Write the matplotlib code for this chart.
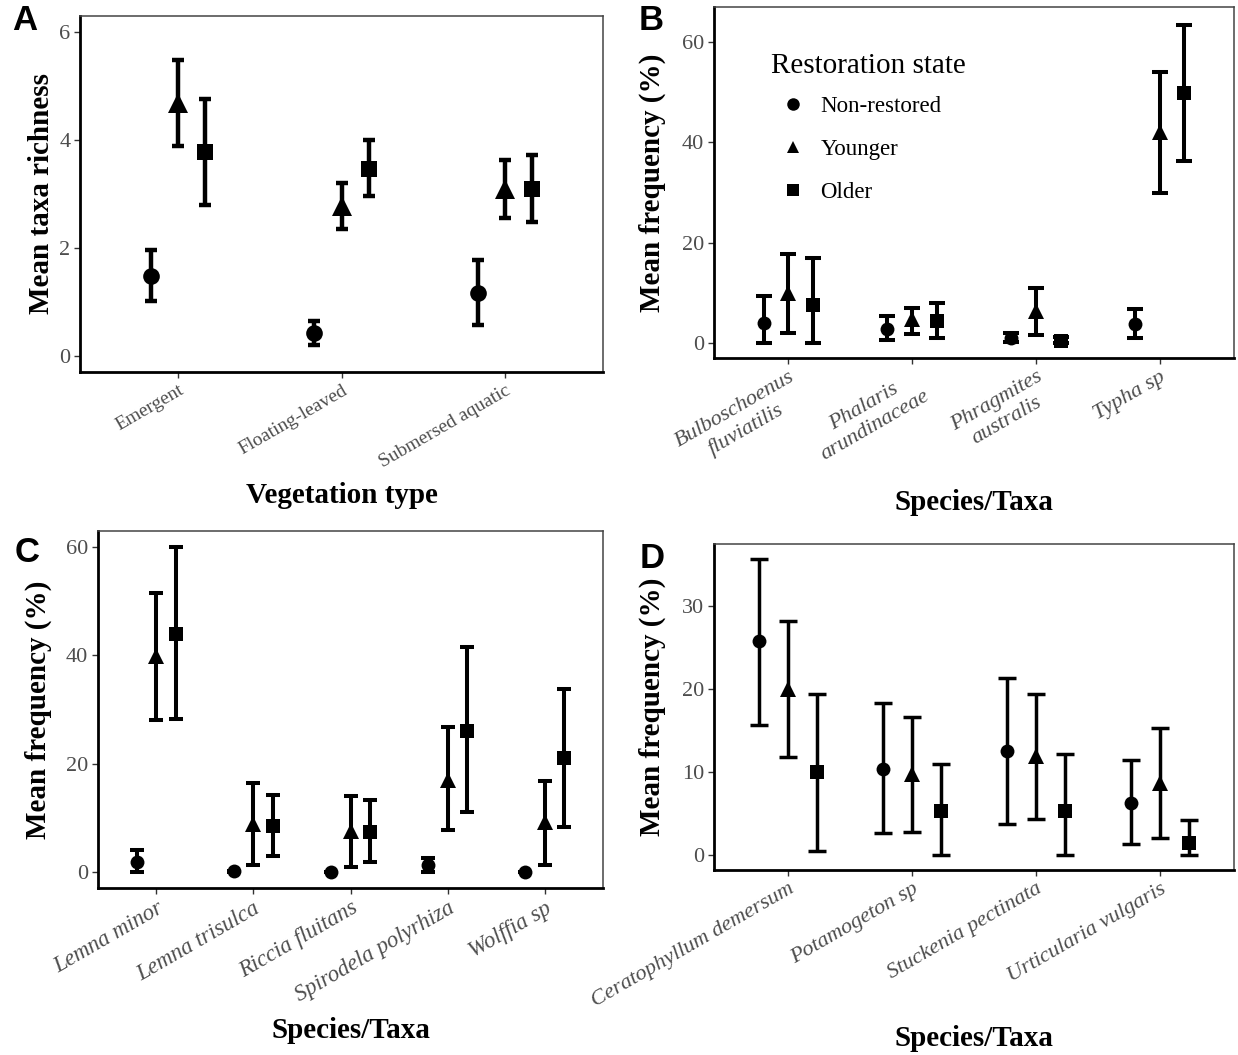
import numpy as np
import matplotlib
matplotlib.use("Agg")
import matplotlib.pyplot as plt
from matplotlib.lines import Line2D

plt.rcParams['font.family'] = ['Liberation Serif', 'DejaVu Serif']

states = ["Non-restored", "Younger", "Older"]
markers = ["o", "^", "s"]

# A - taxa richness by vegetation type
vegetation = ["Emergent", "Floating-leaved", "Submersed aquatic"]
rich_mean = [[1.48, 0.42, 1.17], [4.68, 2.78, 3.09], [3.77, 3.47, 3.09]]
rich_lo = [[1.02, 0.20, 0.58], [3.89, 2.35, 2.55], [2.80, 2.96, 2.48]]
rich_hi = [[1.96, 0.65, 1.78], [5.48, 3.21, 3.63], [4.76, 4.00, 3.72]]

# B - emergent species
emergent = ["Bulboschoenus\nfluviatilis", "Phalaris\narundinaceae", "Phragmites\naustralis", "Typha sp"]
emer_mean = [[4.0, 2.7, 1.0, 3.7], [10.0, 4.7, 6.3, 42.0], [7.5, 4.3, 0.3, 49.9]]
emer_lo = [[0.0, 0.5, 0.2, 0.9], [2.0, 1.8, 1.5, 29.9], [0.0, 0.9, 0.0, 36.3]]
emer_hi = [[9.3, 5.3, 1.9, 6.7], [17.8, 6.9, 11.0, 54.0], [17.0, 7.9, 1.1, 63.5]]

# C - floating-leaved species
floating = ["Lemna minor", "Lemna trisulca", "Riccia fluitans", "Spirodela polyrhiza", "Wolffia sp"]
float_mean = [[1.8, 0.1, 0.0, 1.2, 0.0], [39.8, 8.9, 7.5, 17.0, 9.2], [43.9, 8.5, 7.3, 26.1, 21.0]]
float_lo = [[0.0, 0.0, 0.0, 0.0, 0.0], [28.1, 1.25, 0.9, 7.8, 1.25], [28.3, 2.9, 1.8, 11.1, 8.3]]
float_hi = [[4.0, 0.2, 0.0, 2.6, 0.0], [51.5, 16.4, 14.1, 26.8, 16.7], [60.0, 14.2, 13.3, 41.5, 33.8]]

# D - submersed species
submersed = ["Ceratophyllum demersum", "Potamogeton sp", "Stuckenia pectinata", "Urticularia vulgaris"]
sub_mean = [[25.7, 10.4, 12.5, 6.3], [20.0, 9.7, 11.9, 8.7], [10.0, 5.3, 5.3, 1.45]]
sub_lo = [[15.6, 2.7, 3.8, 1.3], [11.8, 2.8, 4.4, 2.1], [0.5, 0.0, 0.0, 0.0]]
sub_hi = [[35.6, 18.3, 21.3, 11.5], [28.2, 16.6, 19.4, 15.3], [19.4, 10.9, 12.2, 4.2]]


def draw_panel(ax, cats, means, lows, highs, dodge, msizes, lw, cap, ylim, yticks, italic, xfs):
    x = np.arange(1, len(cats) + 1)
    for i in range(3):
        m = np.array(means[i])
        lo = np.array(lows[i])
        hi = np.array(highs[i])
        xi = x + (i - 1) * dodge
        ax.errorbar(xi, m, yerr=[m - lo, hi - m], fmt='none', ecolor='black',
                    elinewidth=lw, capsize=cap, capthick=lw, zorder=2)
        ax.plot(xi, m, linestyle='none', marker=markers[i], ms=msizes[i],
                color='black', mew=0, zorder=3)
    ax.set_xlim(0.4, len(cats) + 0.6)
    ax.set_ylim(*ylim)
    ax.set_yticks(yticks)
    ax.set_xticks(x)
    ax.set_xticklabels(cats, rotation=30, ha='right', rotation_mode='anchor',
                       style='italic' if italic else 'normal', fontsize=xfs,
                       color='#4d4d4d', multialignment='center', linespacing=1.2)
    ax.tick_params(axis='y', labelsize=16, labelcolor='#4d4d4d')
    ax.tick_params(length=4, width=1, color='#333333', pad=3)
    for s in ['left', 'bottom']:
        ax.spines[s].set_linewidth(2)
        ax.spines[s].set_color('black')
    for s in ['top', 'right']:
        ax.spines[s].set_linewidth(1.1)
        ax.spines[s].set_color('#444444')


fig = plt.figure(figsize=(12.38, 10.55), dpi=100)
W, H = 1238.0, 1055.0


def add_ax(l, t, r, b):
    return fig.add_axes([l / W, 1 - b / H, (r - l) / W, (b - t) / H])


axa = add_ax(80, 16, 603, 372)
axb = add_ax(714, 7, 1234, 358)
axc = add_ax(98, 531, 603, 888)
axd = add_ax(714, 544, 1234, 870)

draw_panel(axa, vegetation, rich_mean, rich_lo, rich_hi, 1 / 6, [12, 14, 12], 3.2, 4.5,
           (-0.3, 6.3), [0, 2, 4, 6], False, 14)
draw_panel(axb, emergent, emer_mean, emer_lo, emer_hi, 0.2, [10, 12, 9.5], 2.9, 6,
           (-3.0, 67.0), [0, 20, 40, 60], True, 16)
draw_panel(axc, floating, float_mean, float_lo, float_hi, 0.2, [10, 12, 9.5], 2.9, 5,
           (-3.0, 63.0), [0, 20, 40, 60], True, 16.5)
draw_panel(axd, submersed, sub_mean, sub_lo, sub_hi, 0.233, [10, 12, 9.5], 2.5, 6.5,
           (-1.78, 37.4), [0, 10, 20, 30], True, 16)

lab = dict(fontsize=21, fontweight='bold')
axa.set_ylabel("Mean taxa richness", **lab)
axa.set_xlabel("Vegetation type", **lab)
axa.yaxis.set_label_coords(-0.047, 0.5)
axa.xaxis.set_label_coords(0.5, -0.31)

axb.set_ylabel("Mean frequency (%)", **lab)
axb.set_xlabel("Species/Taxa", **lab)
axb.yaxis.set_label_coords(-0.092, 0.5)
axb.xaxis.set_label_coords(0.5, -0.374)

axc.set_ylabel("Mean frequency (%)", **lab)
axc.set_xlabel("Species/Taxa", **lab)
axc.yaxis.set_label_coords(-0.091, 0.5)
axc.xaxis.set_label_coords(0.5, -0.362)

axd.set_ylabel("Mean frequency (%)", **lab)
axd.set_xlabel("Species/Taxa", **lab)
axd.yaxis.set_label_coords(-0.092, 0.5)
axd.xaxis.set_label_coords(0.5, -0.475)

handles = [Line2D([], [], marker=m, color='black', linestyle='none', markersize=9, mew=0)
           for m in markers]
leg = axb.legend(handles, states, title="Restoration state", loc='upper left',
                 bbox_to_anchor=(0.11, 0.868), frameon=False, fontsize=16.5, title_fontsize=21,
                 alignment='left', borderpad=0, borderaxespad=0, handlelength=1.9,
                 handletextpad=0.25, labelspacing=0.96)
# tighter gap between the legend title and the first key
leg._legend_box.sep = 0.72 * 16.5

letters = dict(fontsize=25, fontweight='bold', family='Liberation Sans', ha='center', va='center')
fig.text(25 / W, 1 - 21 / H, "A", **letters)
fig.text(651 / W, 1 - 21 / H, "B", **letters)
fig.text(27 / W, 1 - 553 / H, "C", **letters)
fig.text(652 / W, 1 - 558 / H, "D", **letters)

fig.savefig("out.png", dpi=100)
